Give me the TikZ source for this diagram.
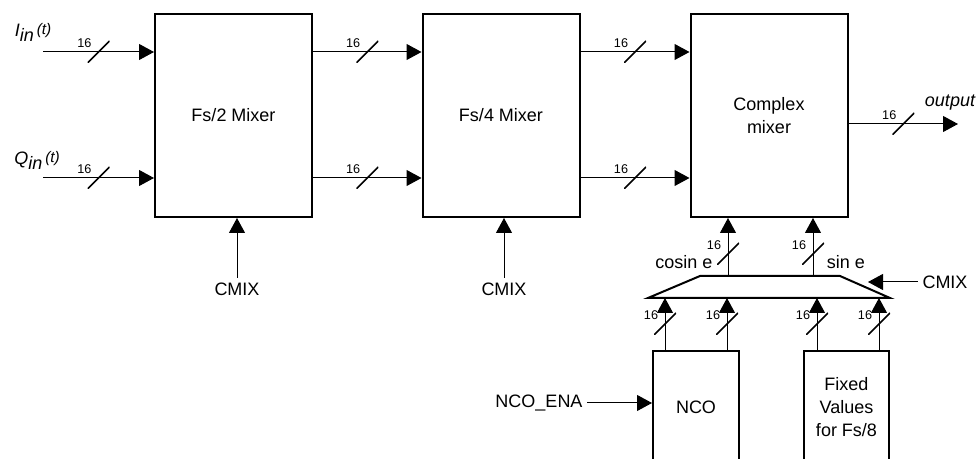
\documentclass[tikz,border=0pt]{standalone}
\usepackage{fontspec}
\setmainfont{Liberation Sans}
\usetikzlibrary{arrows.meta}

\newcommand{\sigin}[1]{\textit{#1\raisebox{-3.75pt}{in}\,\raisebox{1.5pt}{\fontsize{11.5}{11.5}\selectfont(t)}}}

\tikzset{
  block/.style={draw,line width=1.5pt,minimum width=117.75pt,minimum height=152.25pt,align=center,font=\fontsize{13.5}{17}\selectfont},
  sig/.style={line width=0.75pt,-{Triangle[length=11.25pt,width=12pt]}},
  sixteen/.style={inner sep=0pt,font=\fontsize{9.5}{10}\selectfont},
  slash/.style={inner sep=0pt,minimum size=16.5pt,path picture={\draw[line width=1.2pt,-] (path picture bounding box.south west) -- (path picture bounding box.north east);},label={[sixteen,shift={(-10.5pt,6.75pt)}]center:16}},
  txt/.style={font=\fontsize{13.5}{17}\selectfont}
}

\begin{document}
\begin{tikzpicture}[x=0.75pt,y=-0.75pt]
\useasboundingbox (0,0) rectangle (976,459);
\clip (0,0) rectangle (976,459);

\def\ytop{52} \def\ybot{178} \def\ymid{115.5} \def\ymux{276} \def\ymuxb{298}

\node [block] (fs2) at (233.5,\ymid) {Fs/2 Mixer};
\node [block] (fs4) at (501,\ymid) {Fs/4 Mixer};
\node [block] (cmx) at (769,\ymid) {Complex\\mixer};

\coordinate (iin) at (43,\ytop);
\coordinate (qin) at (43,\ybot);
\node [txt] (ilbl) at (33,32) {\sigin{I}};
\node [txt] (qlbl) at (37,160) {\sigin{Q}};

\draw [sig] (iin) -- node [slash] {} (fs2.west |- iin);
\draw [sig] (qin) -- node [slash] {} (fs2.west |- qin);
\draw [sig] (fs2.east |- iin) -- node [slash] {} (fs4.west |- iin);
\draw [sig] (fs2.east |- qin) -- node [slash] {} (fs4.west |- qin);
\draw [sig] (fs4.east |- iin) -- node [slash] {} (cmx.west |- iin);
\draw [sig] (fs4.east |- qin) -- node [slash] {} (cmx.west |- qin);

\coordinate (out) at (958,124);
\draw [sig] (cmx.east |- out) -- node [slash] {} (out);
\node [txt,font=\fontsize{13.5}{17}\selectfont\itshape] (outlbl) at (950,103) {output};

\node [txt] (cmix1) at (237,289) {CMIX};
\node [txt] (cmix2) at (504,289) {CMIX};
\draw [sig] (cmix1) -- (fs2.south -| cmix1);
\draw [sig] (cmix2) -- (fs4.south -| cmix2);

\coordinate (mtl) at (700,\ymux); \coordinate (mtr) at (840,\ymux);
\coordinate (mbr) at (890,\ymuxb); \coordinate (mbl) at (648,\ymuxb);
\draw [line width=1.5pt] (mbl) -- (mtl) -- (mtr) -- (mbr) -- cycle;

\coordinate (mcos) at (728,\ymux); \coordinate (msin) at (813,\ymux);
\draw [sig] (mcos) -- node [slash,pos=0.38] {} (cmx.south -| mcos);
\draw [sig] (msin) -- node [slash,pos=0.38] {} (cmx.south -| msin);
\node [txt] (coslbl) at (684,262) {cosin e};
\node [txt] (sinlbl) at (846,262) {sin e};

\node [txt] (cmix3) at (945,282) {CMIX};
\coordinate (msel) at (868,282);
\draw [sig] (cmix3) -- (msel);

\node [block,minimum width=64.5pt,minimum height=84pt] (nco) at (696,407) {NCO};
\node [block,minimum width=63.75pt,minimum height=84pt] (fix) at (846.5,407) {Fixed\\Values\\for Fs/8};

\coordinate (m1) at (665,\ymuxb); \coordinate (m2) at (727,\ymuxb);
\coordinate (m3) at (817,\ymuxb); \coordinate (m4) at (879,\ymuxb);
\foreach \p/\src in {m1/nco,m2/nco,m3/fix,m4/fix}
  \draw [sig] (\src.north -| \p) -- node [slash] {} (\p);

\node [txt] (ena) at (539,403) {NCO\_ENA};
\draw [sig] (ena) -- (nco.west |- ena);
\end{tikzpicture}
\end{document}
